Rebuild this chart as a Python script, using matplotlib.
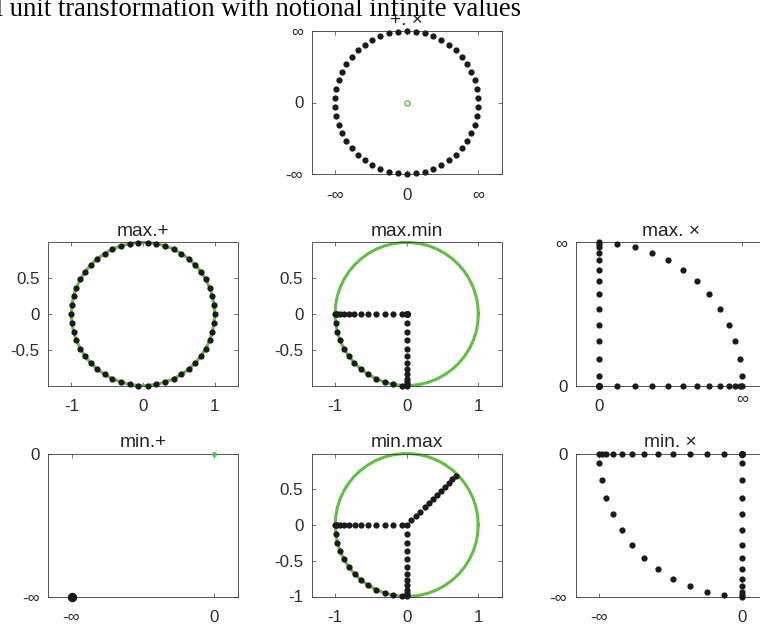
import matplotlib
matplotlib.use("Agg")
import matplotlib.pyplot as plt
from matplotlib.transforms import ScaledTranslation

plt.rcParams['font.family'] = ['Liberation Sans', 'DejaVu Sans']

W, H = 760, 628
fig = plt.figure(figsize=(W / 100, H / 100), dpi=100)

# ---------------------------------------------------------------- data
# unit circle, 50 samples starting at 0 deg (7.2 deg apart)
circle_x = [1.000, 0.992, 0.969, 0.930, 0.876, 0.809, 0.729, 0.637, 0.536, 0.426,
            0.309, 0.187, 0.063, -0.063, -0.187, -0.309, -0.426, -0.536, -0.637, -0.729,
            -0.809, -0.876, -0.930, -0.969, -0.992, -1.000, -0.992, -0.969, -0.930, -0.876,
            -0.809, -0.729, -0.637, -0.536, -0.426, -0.309, -0.187, -0.063, 0.063, 0.187,
            0.309, 0.426, 0.536, 0.637, 0.729, 0.809, 0.876, 0.930, 0.969, 0.992]
circle_y = [0.000, 0.125, 0.249, 0.368, 0.482, 0.588, 0.685, 0.771, 0.844, 0.905,
            0.951, 0.982, 0.998, 0.998, 0.982, 0.951, 0.905, 0.844, 0.771, 0.685,
            0.588, 0.482, 0.368, 0.249, 0.125, 0.000, -0.125, -0.249, -0.368, -0.482,
            -0.588, -0.685, -0.771, -0.844, -0.905, -0.951, -0.982, -0.998, -0.998, -0.982,
            -0.951, -0.905, -0.844, -0.771, -0.685, -0.588, -0.482, -0.368, -0.249, -0.125]

# +.x result, in units of the notional infinity (circle at 3.6 deg + 7.2 deg steps)
plus_times_x = [0.998, 0.982, 0.951, 0.905, 0.844, 0.771, 0.685, 0.588, 0.482, 0.368,
                0.249, 0.125, 0.000, -0.125, -0.249, -0.368, -0.482, -0.588, -0.685, -0.771,
                -0.844, -0.905, -0.951, -0.982, -0.998, -0.998, -0.982, -0.951, -0.905, -0.844,
                -0.771, -0.685, -0.588, -0.482, -0.368, -0.249, -0.125, 0.000, 0.125, 0.249,
                0.368, 0.482, 0.588, 0.685, 0.771, 0.844, 0.905, 0.951, 0.982, 0.998]
plus_times_y = [0.063, 0.187, 0.309, 0.426, 0.536, 0.637, 0.729, 0.809, 0.876, 0.930,
                0.969, 0.992, 1.000, 0.992, 0.969, 0.930, 0.876, 0.809, 0.729, 0.637,
                0.536, 0.426, 0.309, 0.187, 0.063, -0.063, -0.187, -0.309, -0.426, -0.536,
                -0.637, -0.729, -0.809, -0.876, -0.930, -0.969, -0.992, -1.000, -0.992, -0.969,
                -0.930, -0.876, -0.809, -0.729, -0.637, -0.536, -0.426, -0.309, -0.187, -0.063]

# max.min result
max_min_x = [0, 0, 0, 0, 0, 0, 0, 0, 0, 0, 0, 0, 0,
             -0.063, -0.187, -0.309, -0.426, -0.536, -0.637, -0.729, -0.809, -0.876, -0.930,
             -0.969, -0.992,
             -1.000, -0.992, -0.969, -0.930, -0.876, -0.809, -0.729, -0.637, -0.536, -0.426,
             -0.309, -0.187, -0.063,
             0, 0, 0, 0, 0, 0, 0, 0, 0, 0, 0, 0]
max_min_y = [0, 0, 0, 0, 0, 0, 0, 0, 0, 0, 0, 0, 0,
             0, 0, 0, 0, 0, 0, 0, 0, 0, 0, 0, 0,
             0.000, -0.125, -0.249, -0.368, -0.482, -0.588, -0.685, -0.771, -0.844, -0.905,
             -0.951, -0.982, -0.998,
             -0.998, -0.982, -0.951, -0.905, -0.844, -0.771, -0.685, -0.588, -0.482, -0.368,
             -0.249, -0.125]

# min.max result
min_max_x = [0.000, 0.125, 0.249, 0.368, 0.482, 0.588, 0.685, 0.637, 0.536, 0.426,
             0.309, 0.187, 0.063,
             -0.063, -0.187, -0.309, -0.426, -0.536, -0.637, -0.729, -0.809, -0.876, -0.930,
             -0.969, -0.992,
             -1.000, -0.992, -0.969, -0.930, -0.876, -0.809, -0.729, -0.637, -0.536, -0.426,
             -0.309, -0.187, -0.063,
             0, 0, 0, 0, 0, 0, 0, 0, 0, 0, 0, 0]
min_max_y = [0.000, 0.125, 0.249, 0.368, 0.482, 0.588, 0.685, 0.637, 0.536, 0.426,
             0.309, 0.187, 0.063,
             0, 0, 0, 0, 0, 0, 0, 0, 0, 0, 0, 0,
             0.000, -0.125, -0.249, -0.368, -0.482, -0.588, -0.685, -0.771, -0.844, -0.905,
             -0.951, -0.982, -0.998,
             -0.998, -0.982, -0.951, -0.905, -0.844, -0.771, -0.685, -0.588, -0.482, -0.368,
             -0.249, -0.125]

# max.x result, in units of the notional infinity
max_times_x = [0.998, 0.982, 0.951, 0.905, 0.844, 0.771, 0.685, 0.588, 0.482, 0.368,
               0.249, 0.125, 0.000,
               0, 0, 0, 0, 0, 0, 0, 0, 0, 0, 0, 0,
               0, 0, 0, 0, 0, 0, 0, 0, 0, 0, 0, 0, 0,
               0.125, 0.249, 0.368, 0.482, 0.588, 0.685, 0.771, 0.844, 0.905, 0.951,
               0.982, 0.998]
max_times_y = [0.063, 0.187, 0.309, 0.426, 0.536, 0.637, 0.729, 0.809, 0.876, 0.930,
               0.969, 0.992, 1.000,
               0.992, 0.969, 0.930, 0.876, 0.809, 0.729, 0.637, 0.536, 0.426, 0.309,
               0.187, 0.063,
               0, 0, 0, 0, 0, 0, 0, 0, 0, 0, 0, 0, 0,
               0, 0, 0, 0, 0, 0, 0, 0, 0, 0, 0, 0]

# min.x result, in units of the notional infinity
min_times_x = [0, 0, 0, 0, 0, 0, 0, 0, 0, 0, 0, 0, 0,
               -0.125, -0.249, -0.368, -0.482, -0.588, -0.685, -0.771, -0.844, -0.905,
               -0.951, -0.982, -0.998,
               -0.998, -0.982, -0.951, -0.905, -0.844, -0.771, -0.685, -0.588, -0.482,
               -0.368, -0.249, -0.125, 0.000,
               0, 0, 0, 0, 0, 0, 0, 0, 0, 0, 0, 0]
min_times_y = [0, 0, 0, 0, 0, 0, 0, 0, 0, 0, 0, 0, 0,
               0, 0, 0, 0, 0, 0, 0, 0, 0, 0, 0, 0,
               -0.063, -0.187, -0.309, -0.426, -0.536, -0.637, -0.729, -0.809, -0.876,
               -0.930, -0.969, -0.992, -1.000,
               -0.992, -0.969, -0.930, -0.876, -0.809, -0.729, -0.637, -0.536, -0.426,
               -0.309, -0.187, -0.063]

# min.+ result collapses to (-inf, -inf); the unit circle sits at the origin
min_plus_x = [-1.0]
min_plus_y = [-1.0]
origin_x = [0.0]
origin_y = [0.0]

INF_TICKS = [-1, 0, 1]
INF_LABELS = ['-\u221e', '0', '\u221e']

# ---------------------------------------------------------------- style
BLACK = '#1b1b1b'
GREEN = '#62be46'
AXC = '#3a3a3a'
LABC = '#2b2b2b'
MS = 4.5
BOX_W, BOX_H = 190, 143


def make_axes(left, top):
    return fig.add_axes([left / W, 1 - (top + BOX_H) / H, BOX_W / W, BOX_H / H])


def style(ax, title):
    for s in ax.spines.values():
        s.set_color(AXC)
        s.set_linewidth(0.6)
    ax.tick_params(direction='in', length=3, width=0.5, color=AXC,
                   top=True, right=True, labelsize=12.2, labelcolor=LABC)
    ax.tick_params(axis='x', pad=10)
    ax.tick_params(axis='y', pad=6)
    ax.set_title(title, fontsize=13.8, pad=4.5, color='#222222')


def equal_xlim(ax, ylo, yhi, xc=0.0):
    half = (yhi - ylo) / 2 * BOX_W / BOX_H
    ax.set_ylim(ylo, yhi)
    ax.set_xlim(xc - half, xc + half)


def dots(ax, x, y, ms=MS, color=BLACK):
    ax.plot(x, y, linestyle='none', marker='o', ms=ms, color=color,
            markeredgewidth=0, clip_on=False, zorder=3)


def green_circle(ax):
    ax.plot(circle_x + circle_x[:1], circle_y + circle_y[:1], color=GREEN,
            lw=2.2, zorder=2, clip_on=False)


col_left = [48, 311.7, 575.7]
row_top = [31, 242.5, 453.5]

# +.x
ax = make_axes(col_left[1], row_top[0])
dots(ax, plus_times_x, plus_times_y)
ax.plot(origin_x, origin_y, linestyle='none', marker='o', ms=3.6,
        markerfacecolor='none', markeredgecolor=GREEN, markeredgewidth=1.0, zorder=4)
equal_xlim(ax, -1, 1)
ax.set_xticks(INF_TICKS, INF_LABELS)
ax.set_yticks(INF_TICKS, INF_LABELS)
style(ax, '+. \u00d7')

# max.+
ax = make_axes(col_left[0], row_top[1])
green_circle(ax)
dots(ax, circle_x, circle_y)
equal_xlim(ax, -0.998, 0.998)
ax.set_xticks([-1, 0, 1], ['-1', '0', '1'])
ax.set_yticks([-0.5, 0, 0.5], ['-0.5', '0', '0.5'])
style(ax, 'max.+')

# max.min
ax = make_axes(col_left[1], row_top[1])
green_circle(ax)
dots(ax, max_min_x, max_min_y)
equal_xlim(ax, -0.998, 0.998)
ax.set_xticks([-1, 0, 1], ['-1', '0', '1'])
ax.set_yticks([-0.5, 0, 0.5], ['-0.5', '0', '0.5'])
style(ax, 'max.min')

# max.x
ax = make_axes(col_left[2], row_top[1])
dots(ax, max_times_x, max_times_y)
equal_xlim(ax, 0, 1, xc=0.5)
ax.set_xticks([0, 1], ['0', '\u221e'])
ax.set_yticks([0, 1], ['0', '\u221e'])
style(ax, 'max. \u00d7')
inf_lab = ax.xaxis.get_major_ticks()[1].label1
inf_lab.set_transform(inf_lab.get_transform() +
                      ScaledTranslation(0, 7 / 100, fig.dpi_scale_trans))

# min.+
ax = make_axes(col_left[0], row_top[2])
dots(ax, min_plus_x, min_plus_y, ms=6.8)
dots(ax, origin_x, origin_y, ms=3.8, color=GREEN)
equal_xlim(ax, -1, 0, xc=-0.5)
ax.set_xticks([-1, 0], ['-\u221e', '0'])
ax.set_yticks([-1, 0], ['-\u221e', '0'])
style(ax, 'min.+')

# min.max
ax = make_axes(col_left[1], row_top[2])
green_circle(ax)
dots(ax, min_max_x, min_max_y)
equal_xlim(ax, -1, 1)
ax.set_xticks([-1, 0, 1], ['-1', '0', '1'])
ax.set_yticks([-1, -0.5, 0, 0.5], ['-1', '-0.5', '0', '0.5'])
style(ax, 'min.max')

# min.x
ax = make_axes(col_left[2], row_top[2])
dots(ax, min_times_x, min_times_y)
equal_xlim(ax, -1, 0, xc=-0.5)
ax.set_xticks([-1, 0], ['-\u221e', '0'])
ax.set_yticks([-1, 0], ['-\u221e', '0'])
style(ax, 'min. \u00d7')

fig.text(521 / W, 1 - 16 / H,
         'Tropical unit transformation with notional infinite values',
         ha='right', va='baseline', fontsize=19.2,
         family=['Liberation Serif', 'DejaVu Serif'], color='black')

fig.savefig('out.png', dpi=100, facecolor='white')
